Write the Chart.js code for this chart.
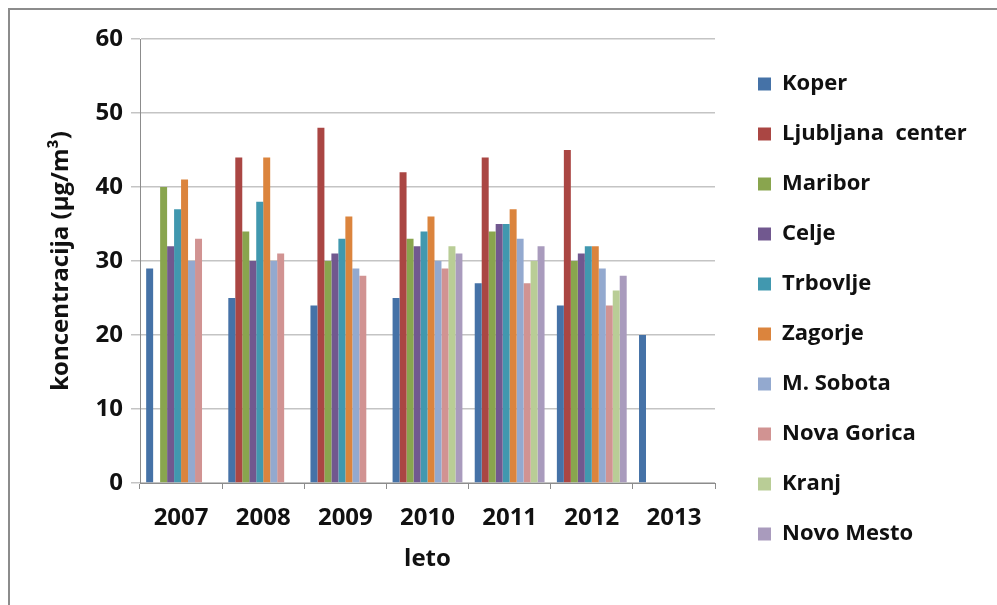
<!DOCTYPE html>
<html>
<head>
<meta charset="utf-8">
<script src="https://cdn.jsdelivr.net/npm/chart.js"></script>
<style>
  html, body { margin: 0; padding: 0; background: #fff; }
  #wrap { position: relative; width: 997px; height: 605px; overflow: hidden; }
  #frame { position: absolute; left: 8px; top: 8px; right: -10px; bottom: -10px; border-top: 2px solid #8c8c8c; border-left: 2px solid #8c8c8c; }
  canvas { position: absolute; left: 0; top: 0; }
</style>
</head>
<body>
<div id="wrap">
  <div id="frame"></div>
  <canvas id="myChart" width="997" height="605"></canvas>
</div>
<script>
// leta in postaje
const years = ['2007', '2008', '2009', '2010', '2011', '2012', '2013'];
const stations = ['Koper', 'Ljubljana  center', 'Maribor', 'Celje', 'Trbovlje', 'Zagorje', 'M. Sobota', 'Nova Gorica', 'Kranj', 'Novo Mesto'];
const colors = ['#4572A7', '#AA4643', '#89A54E', '#71588F', '#4198AF', '#DB843D', '#93A9CF', '#D19392', '#B9CD96', '#A99BBD'];

// koncentracije po postajah (µg/m3)
const koper       = [29, 25, 24, 25, 27, 24, 20];
const ljubljana   = [null, 44, 48, 42, 44, 45, null];
const maribor     = [40, 34, 30, 33, 34, 30, null];
const celje       = [32, 30, 31, 32, 35, 31, null];
const trbovlje    = [37, 38, 33, 34, 35, 32, null];
const zagorje     = [41, 44, 36, 36, 37, 32, null];
const mSobota     = [30, 30, 29, 30, 33, 29, null];
const novaGorica  = [33, 31, 28, 29, 27, 24, null];
const kranj       = [null, null, null, 32, 30, 26, null];
const novoMesto   = [null, null, null, 31, 32, 28, null];
const yTicks = [0, 10, 20, 30, 40, 50, 60];

const series = [koper, ljubljana, maribor, celje, trbovlje, zagorje, mSobota, novaGorica, kranj, novoMesto];
const font = "'Open Sans', sans-serif";

// premik legende desno od grafa in malo navzgor
const legendShift = {
  id: 'legendShift',
  afterLayout(chart) {
    const lg = chart.legend;
    lg.left += 15;
    lg.right += 60;
    lg.width += 45;
    lg.top -= 13;
    lg.bottom -= 13;
  }
};

const ctx = document.getElementById('myChart').getContext('2d');
new Chart(ctx, {
  type: 'bar',
  data: {
    labels: years,
    datasets: series.map((d, i) => ({
      label: stations[i],
      data: d,
      backgroundColor: colors[i],
      borderWidth: 0,
      barPercentage: 1,
      categoryPercentage: 0.85
    }))
  },
  options: {
    responsive: false,
    animation: false,
    events: [],
    layout: { padding: { left: 10, top: 39, right: 47, bottom: 0 } },
    plugins: {
      title: { display: false },
      tooltip: { enabled: false },
      legend: {
        position: 'right',
        labels: {
          boxWidth: 13,
          boxHeight: 13,
          padding: 28,
          color: '#111',
          font: { family: font, size: 22, weight: 'bold' }
        }
      }
    },
    scales: {
      x: {
        grid: { drawOnChartArea: false, drawTicks: true, tickLength: 6, color: '#8c8c8c' },
        border: { color: '#8c8c8c', width: 1 },
        ticks: { color: '#111', padding: 15, font: { family: font, size: 24, weight: 'bold' } },
        title: { display: true, text: 'leto', color: '#111', padding: { top: 4, bottom: 31 }, font: { family: font, size: 24, weight: 'bold' } },
        afterFit(scale) { scale.height = 122; }
      },
      y: {
        min: 0,
        max: 60,
        afterBuildTicks(scale) { scale.ticks = yTicks.map(v => ({ value: v })); },
        grid: { color: '#c4c4c4', tickLength: 9, lineWidth: 1.5 },
        border: { color: '#8c8c8c', width: 1 },
        ticks: { color: '#111', padding: 8, font: { family: font, size: 24, weight: 'bold' } },
        title: { display: true, text: 'koncentracija (µg/m³)', color: '#111', padding: { top: 37, bottom: 0 }, font: { family: font, size: 24, weight: 'bold' } },
        afterFit(scale) { scale.width = 130; }
      }
    }
  },
  plugins: [legendShift]
});
</script>
</body>
</html>
